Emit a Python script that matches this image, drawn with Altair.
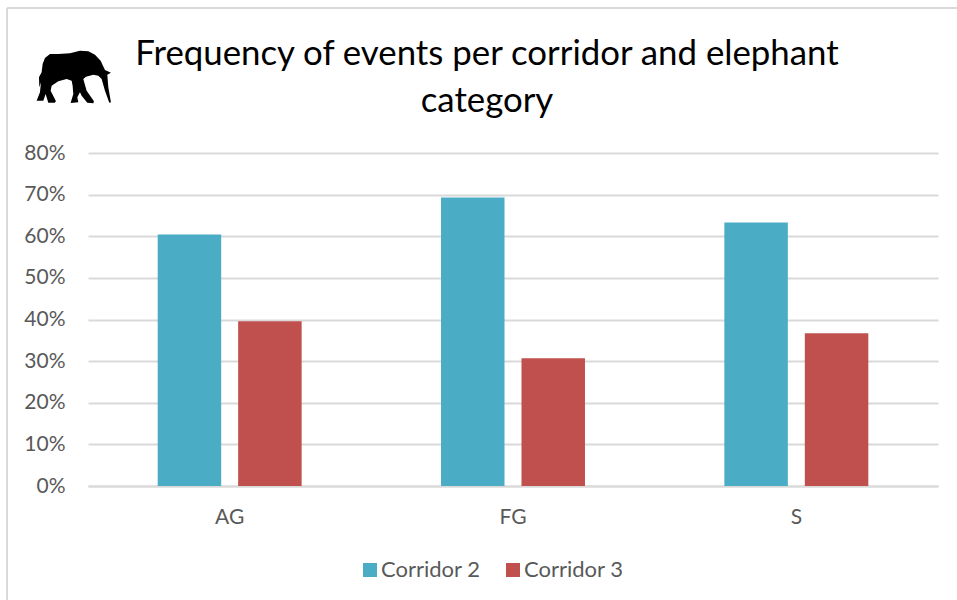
import altair as alt
import pandas as pd

categories = ["AG", "FG", "S"]
corridor_2 = [0.604, 0.693, 0.633]
corridor_3 = [0.396, 0.307, 0.367]
series_names = ["Corridor 2", "Corridor 3"]
series_colors = ["#4BACC6", "#C0504D"]
title_lines = ["Frequency of events per corridor and elephant", "category"]

FONT = "Lato"
GREY_TEXT = "#595959"
GREY_LINE = "#D9D9D9"

rows = []
for cat, a, b in zip(categories, corridor_2, corridor_3):
    rows.append({"category": cat, "series": series_names[0], "share": a})
    rows.append({"category": cat, "series": series_names[1], "share": b})
df = pd.DataFrame(rows)

bars = (
    alt.Chart(df)
    .mark_bar()
    .encode(
        x=alt.X(
            "category:N",
            sort=categories,
            scale=alt.Scale(paddingInner=0, paddingOuter=0),
            axis=alt.Axis(
                title=None, labelAngle=0, ticks=False, domain=True,
                domainColor=GREY_LINE, domainWidth=2, labelFont=FONT,
                labelFontSize=21, labelColor=GREY_TEXT, labelPadding=20, grid=False,
            ),
        ),
        xOffset=alt.XOffset(
            "series:N",
            sort=series_names,
            scale=alt.Scale(paddingInner=0.211, paddingOuter=0.866),
        ),
        y=alt.Y(
            "share:Q",
            scale=alt.Scale(domain=[0, 0.8]),
            axis=alt.Axis(
                title=None, format=".0%", values=[i / 10 for i in range(9)],
                domain=False, ticks=False, labelFont=FONT, labelFontSize=21,
                labelColor=GREY_TEXT, labelPadding=23, gridColor=GREY_LINE,
                gridWidth=2,
            ),
        ),
        color=alt.Color(
            "series:N",
            sort=series_names,
            scale=alt.Scale(domain=series_names, range=series_colors),
            legend=alt.Legend(
                title=None, orient="none", legendX=271, legendY=406,
                direction="horizontal", symbolType="square", symbolSize=196,
                symbolStrokeWidth=0, labelFont=FONT, labelFontSize=22,
                labelColor=GREY_TEXT, labelOffset=0, columnPadding=21,
            ),
        ),
    )
)

# Outer frame: only the top and left edges show inside the canvas
frame_top = alt.Chart(pd.DataFrame({"a": [0]})).mark_rule(color=GREY_LINE, strokeWidth=2).encode(
    x=alt.value(-81), x2=alt.value(869), y=alt.value(-145)
)
frame_left = alt.Chart(pd.DataFrame({"a": [0]})).mark_rule(color=GREY_LINE, strokeWidth=2).encode(
    x=alt.value(-81), y=alt.value(-145), y2=alt.value(447)
)

# Two-line heading, placed as text so each baseline can be set directly
def heading(line, baseline_y):
    return alt.Chart(pd.DataFrame({"line": [line]})).mark_text(
        font=FONT, fontSize=34.8, color="black", align="center", baseline="alphabetic"
    ).encode(text="line:N", x=alt.value(399), y=alt.value(baseline_y))

title_first = heading(title_lines[0], -88)
title_second = heading(title_lines[1], -41)

# Elephant silhouette, drawn as a custom symbol path
ELEPHANT = (
    "M-95,-13 L-92,-38 L-85,-56 L-70,-68 L-45,-68 L-10,-70 L20,-78 L45,-76 L65,-66 "
    "L82,-48 L95,-20 L113,-12 L102,-6 L105,32 L113,77 L108,78 L95,42 L85,7 L75,-3 "
    "L60,-6 L38,0 L30,7 L40,42 L62,74 L60,80 L42,78 L25,57 L20,47 L12,62 L15,77 "
    "L-8,79 L0,52 L-2,27 L-5,12 L-20,7 L-45,14 L-65,27 L-68,42 L-52,74 L-56,78 "
    "L-75,78 L-83,52 L-90,72 L-110,72 L-100,47 L-97,17 L-102,32 L-103,2 Z"
)
elephant = alt.Chart(pd.DataFrame({"a": [0]})).mark_point(
    shape=ELEPHANT, filled=True, color="black", opacity=1, size=4 / 9, strokeWidth=0
).encode(x=alt.value(-14.7), y=alt.value(-76.3))

chart = (
    alt.layer(bars, frame_top, frame_left, title_first, title_second, elephant)
    .properties(
        width=850,
        height=333,
        background="white",
        padding={"left": 88, "top": 153, "right": 19, "bottom": 114},
        autosize=alt.AutoSizeParams(type="none"),
    )
    .configure_view(stroke=None)
)

chart.save("out.html", embed_options={"renderer": "svg", "actions": False})
